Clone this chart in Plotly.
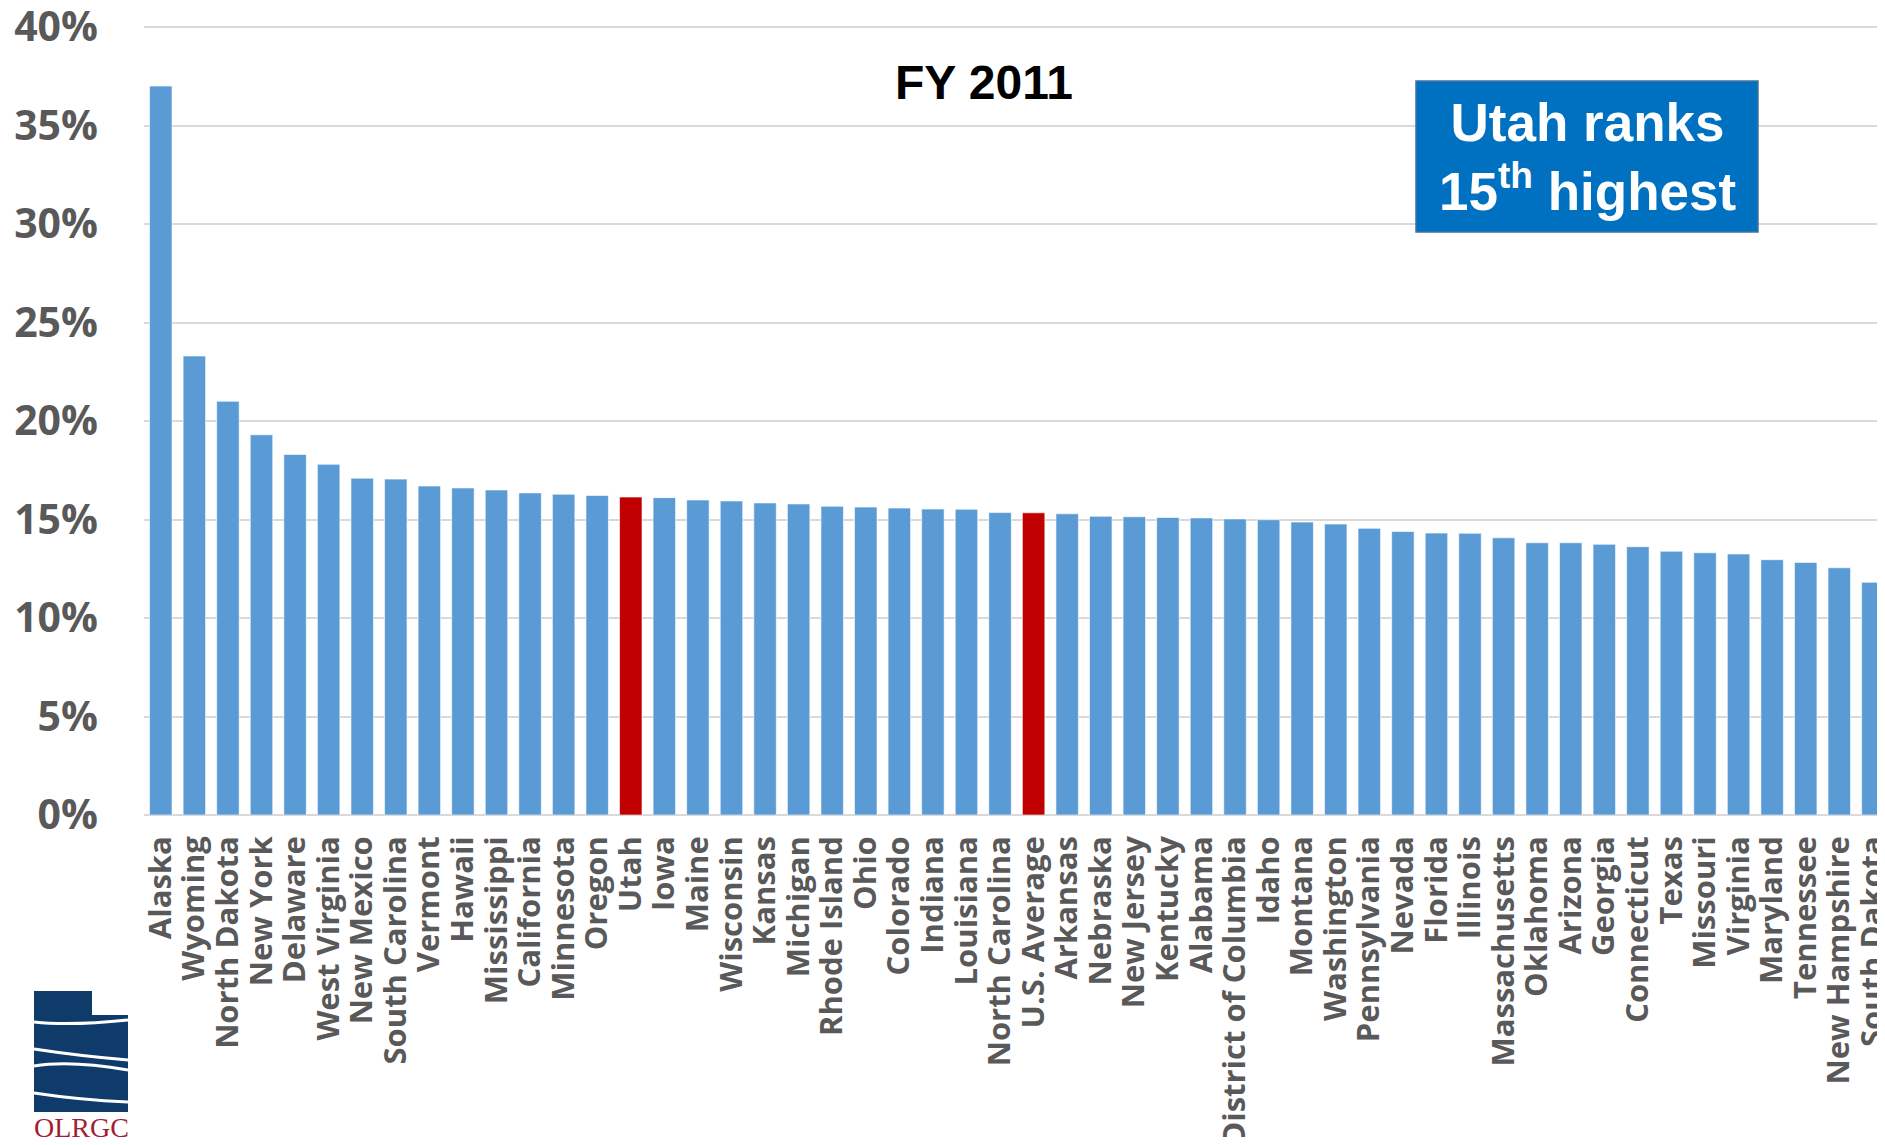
import plotly.graph_objects as go

states = ["Alaska", "Wyoming", "North Dakota", "New York", "Delaware", "West Virginia",
          "New Mexico", "South Carolina", "Vermont", "Hawaii", "Mississippi", "California",
          "Minnesota", "Oregon", "Utah", "Iowa", "Maine", "Wisconsin", "Kansas", "Michigan",
          "Rhode Island", "Ohio", "Colorado", "Indiana", "Louisiana", "North Carolina",
          "U.S. Average", "Arkansas", "Nebraska", "New Jersey", "Kentucky", "Alabama",
          "District of Columbia", "Idaho", "Montana", "Washington", "Pennsylvania", "Nevada",
          "Florida", "Illinois", "Massachusetts", "Oklahoma", "Arizona", "Georgia",
          "Connecticut", "Texas", "Missouri", "Virginia", "Maryland", "Tennessee",
          "New Hampshire", "South Dakota"]

values = [37.0, 23.3, 21.0, 19.3, 18.3, 17.8, 17.1, 17.05, 16.7, 16.6, 16.5, 16.35,
          16.28, 16.22, 16.14, 16.11, 15.99, 15.94, 15.84, 15.79, 15.67, 15.63, 15.58,
          15.53, 15.52, 15.35, 15.34, 15.29, 15.16, 15.14, 15.1, 15.08, 15.03, 14.99,
          14.87, 14.77, 14.55, 14.39, 14.31, 14.3, 14.07, 13.82, 13.82, 13.74, 13.62,
          13.39, 13.31, 13.25, 12.96, 12.82, 12.55, 11.81]

highlight = ["Utah", "U.S. Average"]
y_ticks = [0, 5, 10, 15, 20, 25, 30, 35, 40]
y_tick_labels = [f"{v}%" for v in y_ticks]

title_text = "FY 2011"
box_text = "Utah ranks<br>15<sup>th</sup> highest"
logo_text = "OLRGC"

BLUE = "#5B9BD5"
RED = "#C00000"
colors = [RED if s in highlight else BLUE for s in states]

# page has an 8px body margin on every side; lay the figure out in page coords
OFF = 8
PAGE_W, PAGE_H = 1885, 1145
W, H = PAGE_W - 2 * OFF, PAGE_H - 2 * OFF
PX_PER_PCT = 19.7
Y_MAX = 40 + 4 / PX_PER_PCT
PLOT_L, PLOT_R, PLOT_B = 144, PAGE_W - OFF, 815          # page coords
PLOT_T = PLOT_B - Y_MAX * PX_PER_PCT
PW, PH = PLOT_R - PLOT_L, PLOT_B - PLOT_T
L = PLOT_L - OFF
T = PLOT_T - OFF
R = 0
B = H - (PLOT_B - OFF)
CAT_W = 33.57


def px(x):
    return (x - PLOT_L) / PW


def py(y):
    return (PLOT_B - y) / PH


fig = go.Figure()
fig.add_trace(go.Bar(
    x=states, y=values,
    marker=dict(color=colors, line=dict(color="rgba(255,255,255,0.6)", width=1)),
    hoverinfo="x+y",
))

fig.update_layout(
    width=W, height=H,
    margin=dict(l=L, r=R, t=T, b=B, pad=0, autoexpand=False),
    paper_bgcolor="white", plot_bgcolor="white",
    bargap=0.33,
    showlegend=False,
    font=dict(family="Open Sans", color="#595959"),
)

fig.update_xaxes(
    range=[-0.5, -0.5 + PW / CAT_W],
    tickmode="array", tickvals=states, ticktext=states,
    tickangle=-90,
    tickfont=dict(family="Open Sans", size=31, color="#595959", weight="bold"),
    showgrid=False, showline=False, ticks="",
    ticklabelstandoff=14, ticklabeloverflow="allow",
    automargin=False,
)
fig.update_yaxes(
    range=[0, Y_MAX],
    tickvals=y_ticks, ticktext=y_tick_labels,
    tickfont=dict(family="Open Sans", size=41, color="#595959", weight="bold"),
    showgrid=True, gridcolor="#D9D9D9", gridwidth=1.5,
    zeroline=True, zerolinecolor="#D9D9D9", zerolinewidth=1.5,
    showline=False, ticks="",
    ticklabelstandoff=45, ticklabeloverflow="allow",
    automargin=False,
)

# Title
fig.add_annotation(
    x=px(984), y=py(83), xref="paper", yref="paper",
    text=f"<b>{title_text}</b>", showarrow=False,
    font=dict(family="Liberation Sans", size=48, color="black"),
    xanchor="center", yanchor="middle",
)

# Rank box
fig.add_shape(
    type="rect", xref="paper", yref="paper",
    x0=px(1416), x1=px(1758), y0=py(232), y1=py(81),
    fillcolor="#0070C0", line=dict(color="#41719C", width=1.5), layer="above",
)
fig.add_annotation(
    x=px(1587), y=py(157), xref="paper", yref="paper",
    text=f"<b>{box_text}</b>", showarrow=False,
    font=dict(family="Liberation Sans", size=53, color="white"),
    xanchor="center", yanchor="middle", align="center",
)

# Logo (approximation)
NAVY = "#0F3B6B"


def pth(points):
    return "M " + " L ".join(f"{px(x)},{py(y)}" for x, y in points) + " Z"


fig.add_shape(
    type="path", xref="paper", yref="paper", layer="above",
    path=pth([(34, 991), (92, 991), (92, 1015), (128, 1015), (128, 1112), (34, 1112)]),
    fillcolor=NAVY, line=dict(width=0),
)
waves = [
    [(34, 1022), (70, 1026), (128, 1020)],
    [(34, 1049), (80, 1056), (128, 1060)],
    [(34, 1066), (70, 1060), (128, 1070)],
    [(34, 1093), (80, 1100), (128, 1102)],
]
for (x0, y0), (xc, yc), (x1, y1) in waves:
    fig.add_shape(
        type="path", xref="paper", yref="paper", layer="above",
        path=f"M {px(x0)},{py(y0)} Q {px(xc)},{py(yc)} {px(x1)},{py(y1)}",
        line=dict(color="white", width=3),
    )
fig.add_annotation(
    x=px(81), y=py(1127), xref="paper", yref="paper",
    text=logo_text, showarrow=False,
    font=dict(family="Liberation Serif", size=28, color="#A11F36"),
    xanchor="center", yanchor="middle",
)

fig.write_html("out.html")
